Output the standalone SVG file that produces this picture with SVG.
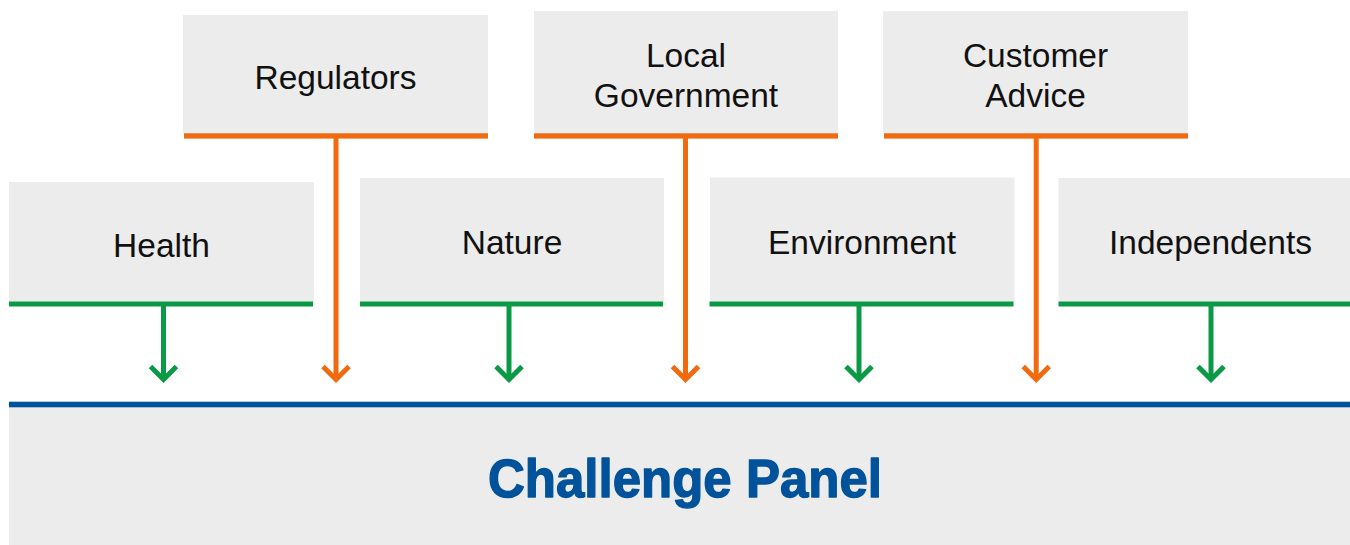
<svg xmlns="http://www.w3.org/2000/svg" width="1350" height="545" viewBox="0 0 1350 545">
  <style>
    .box { fill: #ececec; }
    .bar-o { fill: #f06a0f; }
    .bar-g { fill: #0a9a45; }
    .lbl { font-family: "Liberation Sans", Arial, sans-serif; font-size: 33.5px; fill: #111; text-anchor: middle; }
    .wire-o { stroke: #f06a0f; stroke-width: 5; fill: none; }
    .wire-g { stroke: #0a9a45; stroke-width: 5; fill: none; }
    .title { font-family: "Liberation Sans", Arial, sans-serif; font-weight: bold; font-size: 54px; fill: #00529a; stroke: #00529a; stroke-width: 1.4; stroke-linejoin: round; text-anchor: middle; }
  </style>
  <defs>
    <!-- open chevron head, tip at the origin -->
    <polyline id="head" points="-13,-14 0,-1 13,-14" stroke-linejoin="miter" stroke-linecap="butt"/>
  </defs>

  <rect width="1350" height="545" fill="#ffffff"/>

  <!-- upper row -->
  <g id="regulators">
    <rect class="box" x="183" y="15" width="305" height="119"/>
    <rect class="bar-o" x="184" y="133.3" width="304" height="5.3"/>
    <text class="lbl" x="335.5" y="89">Regulators</text>
  </g>
  <g id="local-government">
    <rect class="box" x="534" y="11" width="304" height="123"/>
    <rect class="bar-o" x="534" y="133.3" width="304" height="5.3"/>
    <text class="lbl" x="686" y="66.7">Local</text>
    <text class="lbl" x="686" y="106.7">Government</text>
  </g>
  <g id="customer-advice">
    <rect class="box" x="883" y="11" width="305" height="123"/>
    <rect class="bar-o" x="884" y="133.3" width="304" height="5.3"/>
    <text class="lbl" x="1035.5" y="66.7">Customer</text>
    <text class="lbl" x="1035.5" y="106.7">Advice</text>
  </g>

  <!-- lower row -->
  <g id="health">
    <rect class="box" x="9" y="182" width="305" height="120"/>
    <rect class="bar-g" x="9" y="301.5" width="304" height="5"/>
    <text class="lbl" x="161.5" y="257.3">Health</text>
  </g>
  <g id="nature">
    <rect class="box" x="360" y="178" width="304" height="124"/>
    <rect class="bar-g" x="360" y="301.5" width="303" height="5"/>
    <text class="lbl" x="512" y="253.5">Nature</text>
  </g>
  <g id="environment">
    <rect class="box" x="710" y="177.5" width="304.5" height="124.5"/>
    <rect class="bar-g" x="709.5" y="301.5" width="304" height="5"/>
    <text class="lbl" x="862" y="253.5">Environment</text>
  </g>
  <g id="independents">
    <rect class="box" x="1058.5" y="178" width="291.5" height="124"/>
    <rect class="bar-g" x="1058.5" y="301.5" width="291.5" height="5"/>
    <text class="lbl" x="1210.5" y="254">Independents</text>
  </g>

  <!-- connectors -->
  <g id="connectors">
    <g class="wire-o">
      <line x1="336" y1="138" x2="336" y2="379"/>
      <use href="#head" x="336" y="380.5"/>
      <line x1="685.5" y1="138" x2="685.5" y2="379"/>
      <use href="#head" x="685.5" y="380.5"/>
      <line x1="1036.2" y1="138" x2="1036.2" y2="379"/>
      <use href="#head" x="1036.2" y="380.5"/>
    </g>
    <g class="wire-g">
      <line x1="163.5" y1="306" x2="163.5" y2="379"/>
      <use href="#head" x="163.5" y="380.5"/>
      <line x1="509" y1="306" x2="509" y2="379"/>
      <use href="#head" x="509" y="380.5"/>
      <line x1="859" y1="306" x2="859" y2="379"/>
      <use href="#head" x="859" y="380.5"/>
      <line x1="1211" y1="306" x2="1211" y2="379"/>
      <use href="#head" x="1211" y="380.5"/>
    </g>
  </g>

  <!-- base panel -->
  <g id="challenge-panel">
    <rect class="box" x="9" y="405" width="1341" height="140"/>
    <rect x="9" y="401.7" width="1341" height="5.6" fill="#00529a"/>
    <text class="title" x="685" y="497" textLength="394" lengthAdjust="spacingAndGlyphs">Challenge Panel</text>
  </g>
</svg>
